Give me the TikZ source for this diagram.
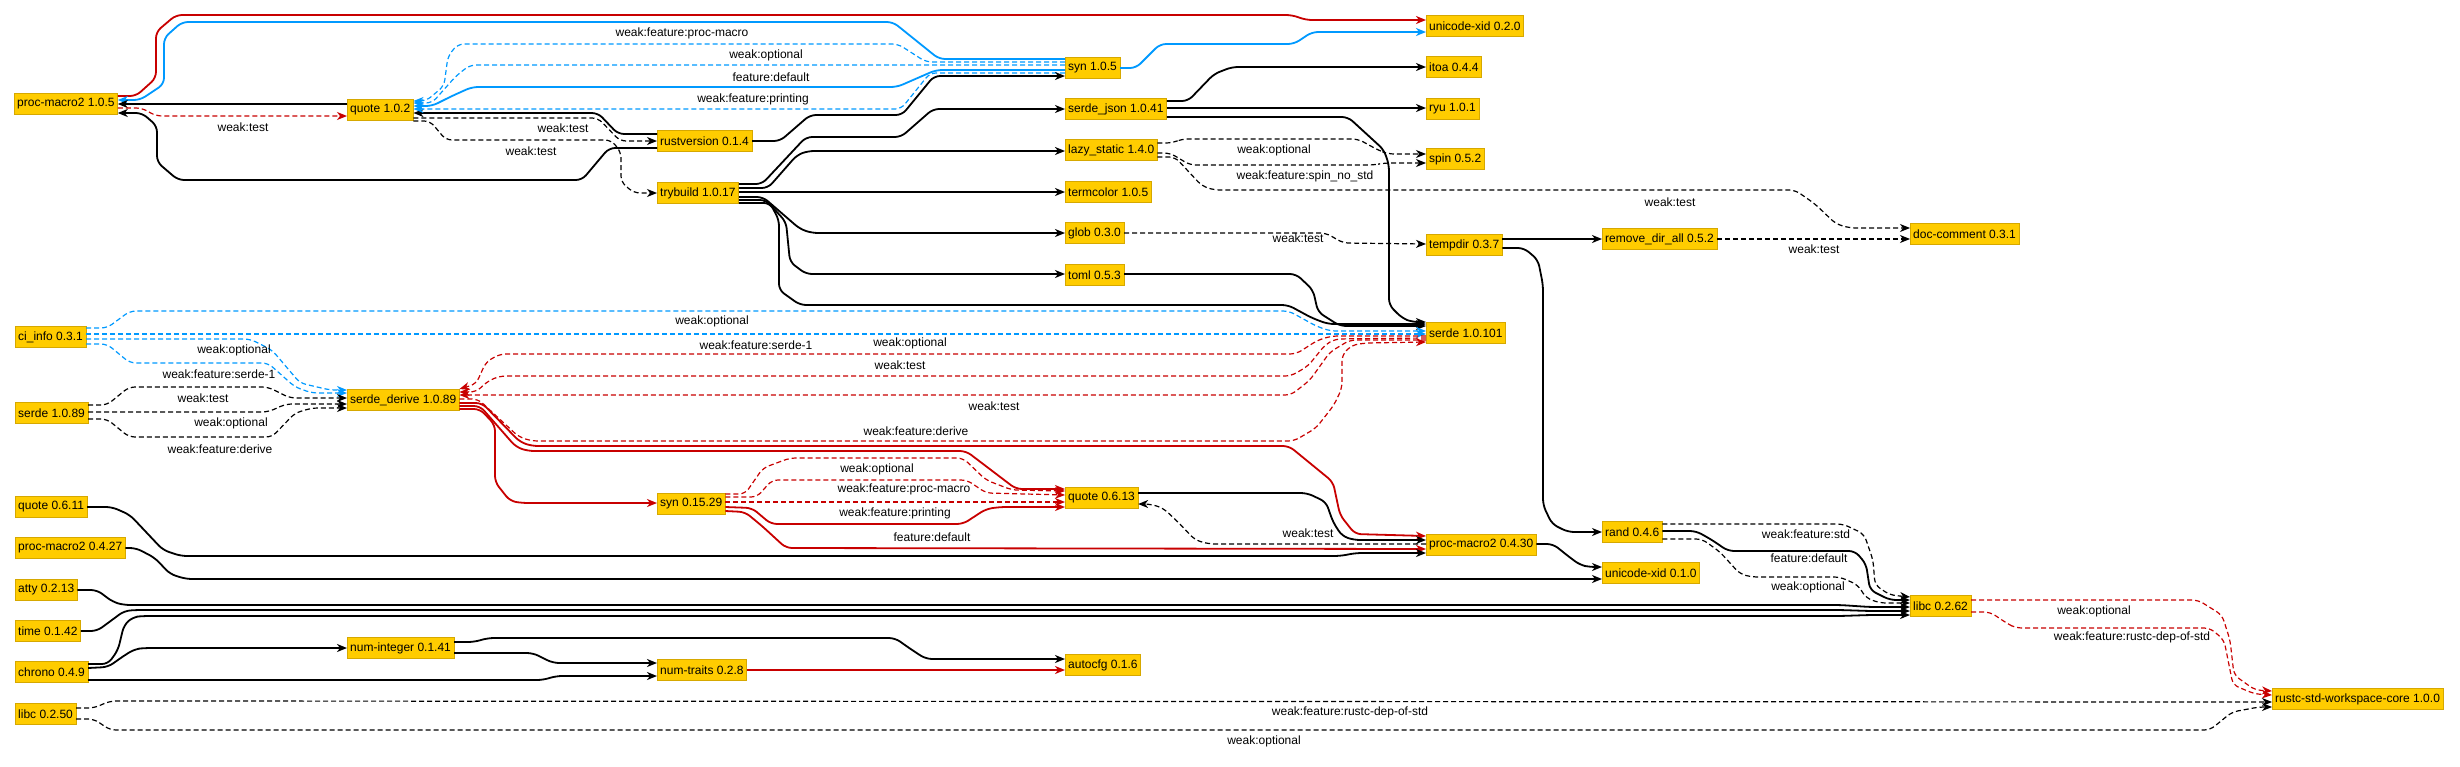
\documentclass[tikz,border=0pt]{standalone}
\usepackage{fontspec}
\setmainfont{Liberation Sans}
\usepackage{xcolor}
\usepackage{tikz}
\usetikzlibrary{arrows.meta, calc}

\definecolor{crateyellow}{RGB}{255,204,0}
\definecolor{crateedge}{RGB}{214,168,0}
\definecolor{hotred}{RGB}{200,0,0}
\definecolor{featblue}{RGB}{0,153,255}

\tikzset{
  crate/.style={draw=crateedge, fill=crateyellow, anchor=west, inner xsep=3pt, inner ysep=0pt,
    minimum height=21pt, font=\fontsize{12}{14}\selectfont},
  dep/.style={draw=black, line width=1.8pt, rounded corners=6pt,
    -{Stealth[length=10pt, width=8pt, inset=3pt]}},
  weak/.style={dep, line width=1.2pt, dash pattern=on 5pt off 3pt},
  lbl/.style={font=\fontsize{12}{14}\selectfont, inner sep=0pt},
}

\begin{document}
\begin{tikzpicture}[x=1pt, y=-1pt]
\useasboundingbox (0,0) rectangle (2460,766);

% crates, column by column
\node[crate] (pmac105) at (14,104) {proc-macro2 1.0.5};
\node[crate] (ciinfo) at (15,337) {ci\_info 0.3.1};
\node[crate] (serde089) at (15,413) {serde 1.0.89};
\node[crate] (quote0611) at (15,507) {quote 0.6.11};
\node[crate] (pmac0427) at (15,548) {proc-macro2 0.4.27};
\node[crate] (atty) at (15,590) {atty 0.2.13};
\node[crate] (time) at (15,631) {time 0.1.42};
\node[crate] (chrono) at (15,672) {chrono 0.4.9};
\node[crate] (libc050) at (15,714) {libc 0.2.50};

\node[crate] (quote102) at (347,110) {quote 1.0.2};
\node[crate] (sderive) at (347,400) {serde\_derive 1.0.89};
\node[crate] (numint) at (347,648) {num-integer 0.1.41};

\node[crate] (rustver) at (657,141) {rustversion 0.1.4};
\node[crate] (trybuild) at (657,193) {trybuild 1.0.17};
\node[crate] (syn01529) at (657,504) {syn 0.15.29};
\node[crate] (numtraits) at (657,670) {num-traits 0.2.8};

\node[crate] (syn105) at (1065,68) {syn 1.0.5};
\node[crate] (serdejson) at (1065,109) {serde\_json 1.0.41};
\node[crate] (lazy) at (1065,150) {lazy\_static 1.4.0};
\node[crate] (termcolor) at (1065,192) {termcolor 1.0.5};
\node[crate] (glob) at (1065,233) {glob 0.3.0};
\node[crate] (toml) at (1065,275) {toml 0.5.3};
\node[crate] (quote0613) at (1065,498) {quote 0.6.13};
\node[crate] (autocfg) at (1065,665) {autocfg 0.1.6};

\node[crate] (uxid020) at (1426,26) {unicode-xid 0.2.0};
\node[crate] (itoa) at (1426,67) {itoa 0.4.4};
\node[crate] (ryu) at (1426,109) {ryu 1.0.1};
\node[crate] (spin) at (1426,159) {spin 0.5.2};
\node[crate] (tempdir) at (1426,245) {tempdir 0.3.7};
\node[crate] (serde101) at (1426,333) {serde 1.0.101};
\node[crate] (pmac0430) at (1426,545) {proc-macro2 0.4.30};

\node[crate] (rmdir) at (1602,239) {remove\_dir\_all 0.5.2};
\node[crate] (rand) at (1602,532) {rand 0.4.6};
\node[crate] (uxid010) at (1602,573) {unicode-xid 0.1.0};

\node[crate] (doccomment) at (1910,234) {doc-comment 0.3.1};
\node[crate] (libc062) at (1910,606) {libc 0.2.62};

\node[crate] (rswcore) at (2272,699) {rustc-std-workspace-core 1.0.0};

% proc-macro2 1.0.5 and quote 1.0.2
\draw[dep, hotred] (pmac105.east |- 0,96) -- (136,96) -- (156,78) -- (156,32) -- (176,15) -- (1292,15) -- (1306,20) -- (uxid020.west |- 0,20);
\draw[dep, featblue] (syn105.west |- 0,59) -- (939,59) -- (893,22) -- (182,22) -- (164,38) -- (164,84) -- (140,100) -- (pmac105.east |- 0,100);
\draw[dep] (quote102.west |- 0,104) -- (pmac105.east |- 0,104);
\draw[weak, hotred] (pmac105.east |- 0,108) -- (142,108) -- (156,116) -- (quote102.west |- 0,116);
\draw[dep] (rustver.west |- 0,148) -- (609,148) -- (582,180) -- (178,180) -- (157,162) -- (157,126) -- (142,113) -- (pmac105.east |- 0,113);
\draw[dep] (rustver.west |- 0,134) -- (618,134) -- (598,113) -- (quote102.east |- 0,113);
\draw[weak] (quote102.east |- 0,118) -- (598,118) -- (620,141) -- (rustver.west |- 0,141);
\draw[weak] (quote102.east |- 0,121) -- (430,121) -- (446,140) -- (611,140) -- (621,152) -- (621,182) -- (634,193) -- (trybuild.west |- 0,193);

% syn 1.0.5
\draw[weak, featblue] (syn105.west |- 0,62) -- (926,62) -- (898,44) -- (458,44) -- (448,56) -- (444,86) -- (426,101) -- (quote102.east |- 0,101);
\draw[weak, featblue] (syn105.west |- 0,65) -- (470,65) -- (456,76) -- (432,103) -- (quote102.east |- 0,103);
\draw[dep, featblue] (syn105.west |- 0,70) -- (936,70) -- (897,87) -- (472,87) -- (452,96) -- (432,106) -- (quote102.east |- 0,106);
\draw[weak, featblue] (syn105.west |- 0,73) -- (930,73) -- (901,109) -- (quote102.east |- 0,109);
\draw[dep, featblue] (syn105.east |- 0,68) -- (1136,68) -- (1160,44) -- (1294,44) -- (1312,32) -- (uxid020.west |- 0,32);
\draw[dep] (rustver.east |- 0,141) -- (780,141) -- (810,115) -- (902,115) -- (934,76) -- (syn105.west |- 0,76);

% trybuild
\draw[dep] (trybuild.east |- 0,184) -- (762,184) -- (806,137) -- (901,137) -- (933,109) -- (serdejson.west |- 0,109);
\draw[dep] (trybuild.east |- 0,188) -- (768,188) -- (797,155) -- (808,151) -- (lazy.west |- 0,151);
\draw[dep] (trybuild.east |- 0,192) -- (termcolor.west |- 0,192);
\draw[dep] (trybuild.east |- 0,197) -- (763,197) -- (800,229) -- (812,233) -- (glob.west |- 0,233);
\draw[dep] (trybuild.east |- 0,200) -- (766,200) -- (786,222) -- (790,262) -- (806,274) -- (toml.west |- 0,274);
\draw[dep] (trybuild.east |- 0,203) -- (770,203) -- (779,220) -- (779,290) -- (800,305) -- (1288,305) -- (1312,318) -- (1328,324) -- (serde101.west |- 0,324);
\draw[dep] (toml.east |- 0,274) -- (1296,274) -- (1313,290) -- (1318,312) -- (1340,326) -- (serde101.west |- 0,326);

% serde_json, lazy_static, glob, tempdir
\draw[dep] (serdejson.east |- 0,117) -- (1348,117) -- (1384,150) -- (1389,165) -- (1389,305) -- (1402,318) -- (1412,322) -- (serde101.west |- 0,322);
\draw[dep] (serdejson.east |- 0,101) -- (1188,101) -- (1214,74) -- (1232,67) -- (itoa.west |- 0,67);
\draw[dep] (serdejson.east |- 0,108) -- (ryu.west |- 0,108);
\draw[weak] (lazy.east |- 0,143) -- (1172,143) -- (1182,139) -- (1358,139) -- (1378,150) -- (1388,154) -- (spin.west |- 0,154);
\draw[weak] (lazy.east |- 0,153) -- (1170,153) -- (1190,165) -- (1374,165) -- (1384,163) -- (spin.west |- 0,163);
\draw[weak] (lazy.east |- 0,157) -- (1175,157) -- (1202,186) -- (1214,190) -- (1795,190) -- (1815,204) -- (1836,224) -- (1850,228) -- (doccomment.west |- 0,228);
\draw[weak] (glob.east |- 0,233) -- (1326,233) -- (1343,243) -- (tempdir.west |- 0,244);
\draw[dep] (tempdir.east |- 0,239) -- (rmdir.west |- 0,239);
\draw[weak] (rmdir.east |- 0,239) -- (doccomment.west |- 0,239);
\draw[dep] (tempdir.east |- 0,248) -- (1524,248) -- (1538,260) -- (1543,285) -- (1543,505) -- (1552,524) -- (1568,532) -- (rand.west |- 0,532);

% ci_info and serde 1.0.89
\draw[weak, featblue] (ciinfo.east |- 0,328) -- (107,328) -- (130,311) -- (1289,311) -- (1316,326) -- (1330,331) -- (serde101.west |- 0,331);
\draw[weak, featblue] (ciinfo.east |- 0,334) -- (serde101.west |- 0,334);
\draw[weak, featblue] (ciinfo.east |- 0,339) -- (250,339) -- (272,350) -- (300,383) -- (330,390) -- (sderive.west |- 0,390);
\draw[weak, featblue] (ciinfo.east |- 0,344) -- (107,344) -- (130,363) -- (268,363) -- (295,387) -- (312,393) -- (sderive.west |- 0,393);
\draw[weak] (serde089.east |- 0,405) -- (107,405) -- (129,387) -- (268,387) -- (290,398) -- (sderive.west |- 0,398);
\draw[weak] (serde089.east |- 0,412) -- (268,412) -- (286,404) -- (sderive.west |- 0,404);
\draw[weak] (serde089.east |- 0,419) -- (107,419) -- (129,437) -- (272,437) -- (295,413) -- (312,408) -- (sderive.west |- 0,408);

% serde_derive
\draw[weak, hotred] (serde101.west |- 0,336) -- (1332,336) -- (1318,340) -- (1296,354) -- (500,354) -- (486,362) -- (476,384) -- (sderive.east |- 0,389);
\draw[weak, hotred] (serde101.west |- 0,338) -- (1335,339) -- (1325,345) -- (1308,366) -- (1291,376) -- (500,376) -- (488,381) -- (476,392) -- (sderive.east |- 0,392);
\draw[weak, hotred] (serde101.west |- 0,340) -- (1350,340) -- (1330,352) -- (1310,380) -- (1291,395) -- (sderive.east |- 0,395);
\draw[weak, hotred] (sderive.east |- 0,399) -- (478,399) -- (519,437) -- (532,441) -- (1294,441) -- (1316,428) -- (1334,405) -- (1342,388) -- (1342,355) -- (1352,345) -- (1366,343) -- (serde101.west |- 0,342);
\draw[dep, hotred] (sderive.east |- 0,403) -- (482,403) -- (520,442) -- (532,446) -- (1289,446) -- (1333,482) -- (1340,515) -- (1355,534) -- (pmac0430.west |- 0,536);
\draw[dep, hotred] (sderive.east |- 0,406) -- (480,406) -- (516,447) -- (528,451) -- (966,451) -- (1016,489) -- (quote0613.west |- 0,489);
\draw[dep, hotred] (sderive.east |- 0,409) -- (480,409) -- (495,425) -- (495,482) -- (510,501) -- (522,503) -- (syn01529.west |- 0,503);

% syn 0.15.29
\draw[weak, hotred] (syn01529.east |- 0,494) -- (745,494) -- (763,468) -- (790,458) -- (963,458) -- (986,480) -- (1012,490) -- (quote0613.west |- 0,491);
\draw[weak, hotred] (syn01529.east |- 0,497) -- (757,497) -- (772,480) -- (967,480) -- (986,493) -- (quote0613.west |- 0,495);
\draw[weak, hotred] (syn01529.east |- 0,502) -- (quote0613.west |- 0,502);
\draw[dep, hotred] (syn01529.east |- 0,507) -- (752,508) -- (771,524) -- (963,524) -- (986,509) -- (1000,507) -- (quote0613.west |- 0,507);
\draw[dep, hotred] (syn01529.east |- 0,511) -- (745,512) -- (762,526) -- (786,548) -- (pmac0430.west |- 0,549);

% quote 0.6.x and proc-macro2 0.4.x
\draw[dep] (quote0613.east |- 0,493) -- (1307,493) -- (1326,502) -- (1333,522) -- (1342,536) -- (1354,540) -- (pmac0430.west |- 0,540);
\draw[weak] (pmac0430.west |- 0,544) -- (1209,544) -- (1195,540) -- (1178,522) -- (1163,508) -- (1150,504) -- (quote0613.east |- 0,504);
\draw[dep] (quote0611.east |- 0,507) -- (112,507) -- (130,515) -- (163,550) -- (181,556) -- (1340,556) -- (1356,553) -- (pmac0430.west |- 0,553);
\draw[dep] (pmac0427.east |- 0,548) -- (136,548) -- (155,558) -- (170,574) -- (186,579) -- (uxid010.west |- 0,579);
\draw[dep] (pmac0430.east |- 0,544) -- (1553,544) -- (1568,556) -- (1580,565) -- (1590,567) -- (uxid010.west |- 0,567);

% libc 0.2.62
\draw[weak] (rand.east |- 0,524) -- (1843,524) -- (1864,534) -- (1873,560) -- (1875,585) -- (1890,595) -- (libc062.west |- 0,597);
\draw[dep] (rand.east |- 0,531) -- (1696,531) -- (1712,540) -- (1728,551) -- (1855,551) -- (1866,564) -- (1870,590) -- (1890,600) -- (libc062.west |- 0,600);
\draw[weak] (rand.east |- 0,539) -- (1702,539) -- (1720,552) -- (1740,574) -- (1752,577) -- (1840,577) -- (1858,585) -- (1866,598) -- (1880,603) -- (libc062.west |- 0,603);
\draw[dep] (atty.east |- 0,590) -- (97,590) -- (113,602) -- (124,605) -- (1840,605) -- (1870,607) -- (libc062.west |- 0,607);
\draw[dep] (time.east |- 0,631) -- (97,631) -- (112,620) -- (124,611) -- (135,610) -- (1840,610) -- (1870,611) -- (libc062.west |- 0,611);
\draw[dep] (chrono.east |- 0,664) -- (108,664) -- (118,650) -- (124,625) -- (133,617) -- (143,616) -- (1840,616) -- (1870,615) -- (libc062.west |- 0,615);

% chrono, num-integer, num-traits
\draw[dep] (chrono.east |- 0,668) -- (108,667) -- (125,655) -- (135,649) -- (145,648) -- (numint.west |- 0,648);
\draw[dep] (chrono.east |- 0,680) -- (543,680) -- (556,676) -- (numtraits.west |- 0,676);
\draw[dep] (numint.east |- 0,653) -- (533,653) -- (553,663) -- (numtraits.west |- 0,663);
\draw[dep] (numint.east |- 0,642) -- (474,642) -- (488,638) -- (895,638) -- (912,650) -- (926,659) -- (autocfg.west |- 0,659);
\draw[dep, hotred] (numtraits.east |- 0,670) -- (autocfg.west |- 0,670);

% rustc-std-workspace-core
\draw[weak, hotred] (libc062.east |- 0,600) -- (2198,600) -- (2222,615) -- (2230,640) -- (2234,675) -- (2255,690) -- (rswcore.west |- 0,691);
\draw[weak, hotred] (libc062.east |- 0,612) -- (1990,612) -- (2008,624) -- (2016,628) -- (2210,628) -- (2224,640) -- (2229,665) -- (2233,685) -- (2255,694) -- (rswcore.west |- 0,695);
\draw[weak] (libc050.east |- 0,708) -- (94,708) -- (110,701) -- (rswcore.west |- 0,702);
\draw[weak] (libc050.east |- 0,719) -- (94,719) -- (110,730) -- (2210,730) -- (2232,712) -- (2259,707) -- (rswcore.west |- 0,707);

% edge labels
\node[lbl] (lwt1) at (243,127) {weak:test};
\node[lbl] (lwt2) at (563,128) {weak:test};
\node[lbl] (lwt3) at (531,151) {weak:test};
\node[lbl] (lpm1) at (682,33) {weak:feature:proc-macro};
\node[lbl] (lop1) at (766,55) {weak:optional};
\node[lbl] (ldf1) at (771,77) {feature:default};
\node[lbl] (lpr1) at (753,99) {weak:feature:printing};
\node[lbl] (lop2) at (1274,150) {weak:optional};
\node[lbl] (lsns) at (1305,176) {weak:feature:spin\_no\_std};
\node[lbl] (lwt4) at (1670,202) {weak:test};
\node[lbl] (lwt5) at (1298,238) {weak:test};
\node[lbl] (lwt6) at (1814,249) {weak:test};
\node[lbl] (lop3) at (712,321) {weak:optional};
\node[lbl] (lsr1) at (756,345) {weak:feature:serde-1};
\node[lbl] (lop4) at (234,350) {weak:optional};
\node[lbl] (lsr2) at (219,374) {weak:feature:serde-1};
\node[lbl] (lwt7) at (203,398) {weak:test};
\node[lbl] (lop5) at (231,423) {weak:optional};
\node[lbl] (ldv1) at (220,449) {weak:feature:derive};
\node[lbl] (lop6) at (910,343) {weak:optional};
\node[lbl] (lwt8) at (900,365) {weak:test};
\node[lbl] (lwt9) at (994,406) {weak:test};
\node[lbl] (ldv2) at (916,431) {weak:feature:derive};
\node[lbl] (lop7) at (877,469) {weak:optional};
\node[lbl] (lpm2) at (904,489) {weak:feature:proc-macro};
\node[lbl] (lpr2) at (895,513) {weak:feature:printing};
\node[lbl] (ldf2) at (932,537) {feature:default};
\node[lbl] (lwt10) at (1308,533) {weak:test};
\node[lbl] (lstd) at (1806,534) {weak:feature:std};
\node[lbl] (ldf3) at (1809,558) {feature:default};
\node[lbl] (lop8) at (1808,587) {weak:optional};
\node[lbl] (lop9) at (2094,611) {weak:optional};
\node[lbl] (lrd1) at (2132,637) {weak:feature:rustc-dep-of-std};
\node[lbl] (lrd2) at (1350,712) {weak:feature:rustc-dep-of-std};
\node[lbl] (lop10) at (1264,741) {weak:optional};
\end{tikzpicture}
\end{document}
